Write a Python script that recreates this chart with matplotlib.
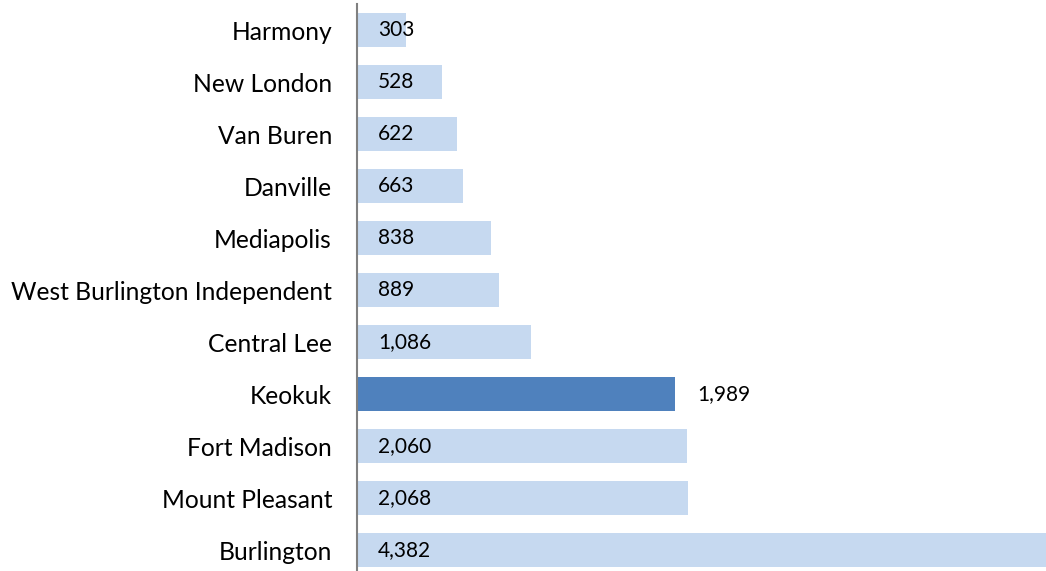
import matplotlib
matplotlib.use("Agg")
import matplotlib.pyplot as plt

# districts from top to bottom as shown
districts = ["Harmony", "New London", "Van Buren", "Danville", "Mediapolis",
             "West Burlington Independent", "Central Lee", "Keokuk",
             "Fort Madison", "Mount Pleasant", "Burlington"]
enrollment = [303, 528, 622, 663, 838, 889, 1086, 1989, 2060, 2068, 4382]
highlight = "Keokuk"

light = "#C6D9F0"
dark = "#4F81BD"

plt.rcParams['font.family'] = ['Lato', 'DejaVu Sans']

W, H = 1046, 571
fig = plt.figure(figsize=(W / 100, H / 100), dpi=100)
ax = fig.add_axes([357 / W, -5 / H, 1 - 357 / W, 572 / H])

n = len(districts)
ypos = list(range(n - 1, -1, -1))
colors = [dark if d == highlight else light for d in districts]
ax.barh(ypos, enrollment, height=0.65, color=colors, edgecolor='none')

for y, v, d in zip(ypos, enrollment, districts):
    txt = f"{v:,}"
    if d == highlight:
        ax.annotate(txt, (v, y), xytext=(16, 0), textcoords='offset points',
                    va='center', ha='left', fontsize=15, color='black')
    else:
        ax.annotate(txt, (0, y), xytext=(15, 0), textcoords='offset points',
                    va='center', ha='left', fontsize=15, color='black')

ax.set_yticks(ypos)
ax.set_yticklabels(districts, fontsize=17.7)
ax.tick_params(axis='y', length=0, pad=18)
ax.set_xticks([])
ax.set_xlim(0, 4303)
ax.set_ylim(-0.5, n - 0.5)

for s in ['top', 'right', 'bottom']:
    ax.spines[s].set_visible(False)
ax.spines['left'].set_color('#808080')
ax.spines['left'].set_linewidth(1.5)
ax.spines['left'].set_zorder(5)

fig.savefig("out.png", dpi=100)
